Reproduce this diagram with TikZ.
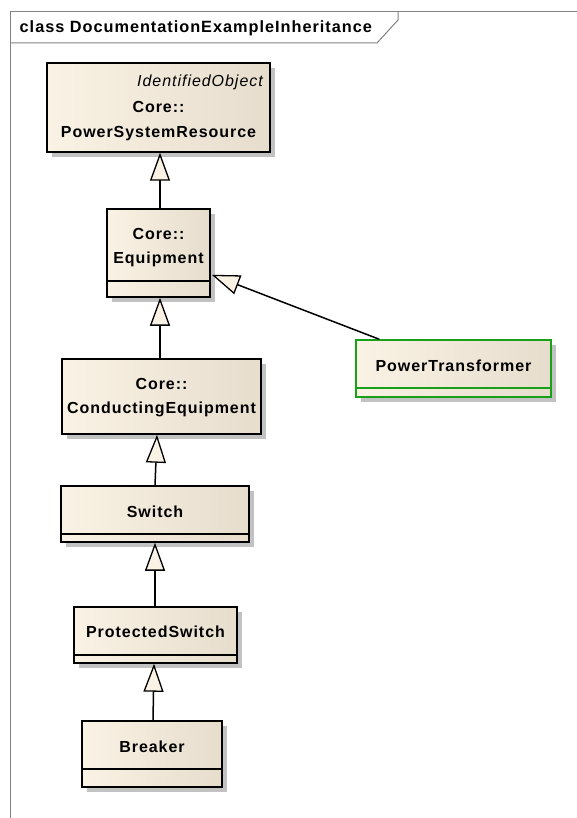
\documentclass[tikz,border=0pt]{standalone}
\usepackage{fontspec}
\setmainfont{Liberation Sans}[LetterSpace=6]
\usetikzlibrary{arrows.meta,shadows}

\definecolor{creamL}{RGB}{250,242,228}
\definecolor{creamR}{RGB}{230,221,205}
\definecolor{framegray}{RGB}{130,130,130}
\definecolor{ptgreen}{RGB}{24,160,24}
\definecolor{shadowgray}{RGB}{194,194,194}

\tikzset{
  classbox/.style={draw=black, line width=1.5pt, left color=creamL, right color=creamR,
    inner sep=0pt, drop shadow={shadow xshift=5pt, shadow yshift=-5pt, fill=shadowgray, opacity=1}},
  classname/.style={anchor=base, inner sep=0pt, font=\fontsize{16}{19}\selectfont\bfseries},
  stereo/.style={anchor=base east, inner sep=0pt, font=\fontsize{16}{19}\selectfont\itshape},
  compartment/.style={draw=black, line width=1.8pt},
  generalization/.style={draw=black, line width=1.5pt,
    -{Triangle[length=28pt, width=20pt, fill=creamL, line width=1.3pt]}},
  framestroke/.style={draw=framegray, line width=1pt}
}

\begin{document}
\begin{tikzpicture}[x=1pt, y=-1pt]
\useasboundingbox (0,0) rectangle (577,818);

% diagram frame and its name tab
\draw[framestroke] (10,818) -- (10,12) -- (577,12);
\draw[framestroke] (10,43) -- (377,43) -- (398,20) -- (398,12);
\node[anchor=base west, inner sep=0pt, font=\fontsize{16.3}{19}\selectfont\bfseries]
  (title) at (19.5,33) {class DocumentationExampleInheritance};

% classes
\node[classbox, minimum width=223pt, minimum height=89pt] (psr) at (158.5,107.5) {};
\node[stereo] (psrstereo) at (263,87) {IdentifiedObject};
\node[classname] (psrpkg) at (158.5,113) {Core::};
\node[classname] (psrname) at (158.5,138) {PowerSystemResource};

\node[classbox, minimum width=103pt, minimum height=88pt] (eq) at (158.5,253) {};
\node[classname] (eqpkg) at (158.5,240) {Core::};
\node[classname] (eqname) at (158.5,263.5) {Equipment};
\draw[compartment] ([yshift=17pt]eq.south west) -- ([yshift=17pt]eq.south east);

\node[classbox, draw=ptgreen, minimum width=195pt, minimum height=57pt] (pt) at (453.5,368.5) {};
\node[classname] (ptname) at (453.5,371) {PowerTransformer};
\draw[compartment, draw=ptgreen] ([yshift=10pt]pt.south west) -- ([yshift=10pt]pt.south east);

\node[classbox, minimum width=199pt, minimum height=75pt] (ce) at (161.5,396.5) {};
\node[classname] (cepkg) at (161.5,389) {Core::};
\node[classname] (cename) at (161.5,413) {ConductingEquipment};

\node[classbox, minimum width=188pt, minimum height=56pt] (sw) at (155,514) {};
\node[classname] (swname) at (155,517) {Switch};
\draw[compartment] ([yshift=9pt]sw.south west) -- ([yshift=9pt]sw.south east);

\node[classbox, minimum width=163pt, minimum height=56pt] (ps) at (155.5,635) {};
\node[classname] (psname) at (155.5,637) {ProtectedSwitch};
\draw[compartment] ([yshift=9pt]ps.south west) -- ([yshift=9pt]ps.south east);

\node[classbox, minimum width=140pt, minimum height=66pt] (br) at (152,754) {};
\node[classname] (brname) at (152,752) {Breaker};
\draw[compartment] ([yshift=19pt]br.south west) -- ([yshift=19pt]br.south east);

% generalizations
\draw[generalization] ([xshift=1.5pt]eq.north) -- ([xshift=1.5pt]psr.south);
\draw[generalization] ([xshift=-1.5pt]ce.north) -- ([xshift=1.5pt]eq.south);
\draw[generalization] ([xshift=24pt]pt.north west) -- ([yshift=23pt,xshift=1pt]eq.south east);
\draw[generalization] (sw.north) -- ([xshift=-4.5pt]ce.south);
\draw[generalization] ([xshift=-0.5pt]ps.north) -- (sw.south);
\draw[generalization] ([xshift=1pt]br.north) -- ([xshift=-1.5pt]ps.south);
\end{tikzpicture}
\end{document}
